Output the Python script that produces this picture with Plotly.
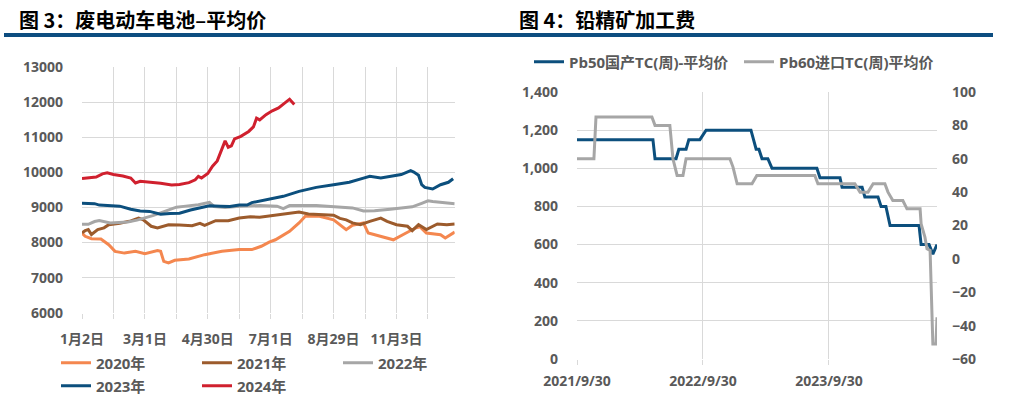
import plotly.graph_objects as go

# ---------------- Left chart: 废电动车电池–平均价 (trading-day index within year) ----------------
x_tick_idx = [0, 20, 40, 60, 80, 100, 120, 140, 160, 180, 200, 220]
x_tick_txt = ["1月2日", "", "3月1日", "", "4月30日", "", "7月1日", "", "8月29日", "", "11月3日", ""]

idx_2020 = [0, 2, 6, 12, 17, 21, 27, 34, 40, 48, 50, 52, 55, 59, 68, 78, 89, 100, 108, 114,
            119, 123, 132, 138, 142, 151, 160, 165, 168, 172, 179, 182, 190, 198, 204, 212, 215,
            219, 228, 231, 237]
val_2020 = [8270, 8180, 8110, 8100, 7940, 7750, 7700, 7750, 7685, 7770, 7750, 7465, 7420, 7495,
            7530, 7655, 7750, 7800, 7800, 7895, 8015, 8080, 8320, 8560, 8750, 8750, 8650, 8465,
            8370, 8495, 8560, 8273, 8180, 8080, 8225, 8415, 8450, 8273, 8225, 8130, 8300]

idx_2021 = [0, 2, 4, 6, 10, 14, 17, 24, 31, 36, 39, 44, 48, 55, 62, 70, 75, 78, 85, 93, 100,
            107, 113, 120, 128, 134, 138, 144, 151, 160, 164, 168, 172, 177, 183, 190, 194, 200,
            207, 210, 214, 219, 226, 232, 237]
val_2021 = [8280, 8340, 8370, 8230, 8370, 8420, 8510, 8550, 8620, 8700, 8650, 8465, 8415, 8510,
            8500, 8480, 8550, 8490, 8625, 8625, 8700, 8740, 8720, 8760, 8815, 8850, 8870, 8815,
            8800, 8780, 8690, 8650, 8560, 8510, 8605, 8700, 8605, 8510, 8465, 8340, 8510, 8370,
            8530, 8510, 8530]

idx_2022 = [0, 4, 8, 11, 18, 24, 29, 35, 40, 45, 50, 56, 60, 66, 74, 81, 84, 91, 100, 113, 124,
            128, 132, 149, 160, 172, 179, 186, 196, 204, 210, 216, 220, 223, 230, 237]
val_2022 = [8520, 8520, 8600, 8630, 8560, 8570, 8590, 8640, 8700, 8770, 8850, 8950, 9010, 9040,
            9080, 9150, 9030, 9000, 9035, 9060, 9040, 8970, 9055, 9060, 9035, 8990, 8900, 8910,
            8950, 8990, 9020, 9120, 9190, 9170, 9130, 9110]

idx_2023 = [0, 8, 11, 20, 24, 31, 37, 43, 50, 56, 62, 69, 75, 81, 88, 94, 100, 105, 108, 117,
            128, 138, 149, 160, 170, 179, 183, 190, 198, 203, 209, 211, 214, 216, 218, 223, 228,
            233, 236]
val_2023 = [9120, 9110, 9070, 9050, 9040, 8950, 8900, 8890, 8810, 8830, 8840, 8930, 8980, 9050,
            9040, 9030, 9070, 9070, 9140, 9225, 9320, 9460, 9575, 9650, 9720, 9840, 9890, 9840,
            9890, 9940, 10050, 10010, 9920, 9650, 9575, 9530, 9650, 9720, 9820]

idx_2024 = [0, 5, 9, 13, 16, 20, 26, 31, 34, 37, 43, 50, 57, 62, 68, 72, 74, 76, 80, 83, 86, 89,
            91, 93, 95, 97, 101, 106, 109, 111, 113, 117, 121, 125, 129, 132, 135]
val_2024 = [9830, 9850, 9870, 9960, 9990, 9940, 9900, 9840, 9700, 9750, 9730, 9690, 9640, 9660,
            9710, 9790, 9890, 9840, 9970, 10180, 10330, 10700, 10900, 10720, 10760, 10960, 11030,
            11170, 11300, 11550, 11500, 11650, 11760, 11840, 11970, 12090, 11940]

# ---------------- Right chart: 铅精矿加工费 ----------------
pb50_dates = ["2021-09-30", "2022-05-08", "2022-05-14", "2022-07-14", "2022-07-22", "2022-08-12",
              "2022-08-20", "2022-09-21", "2022-10-09", "2023-02-16", "2023-03-03", "2023-03-11",
              "2023-03-20", "2023-04-06", "2023-04-18", "2023-08-26", "2023-09-04", "2023-11-01",
              "2023-11-07", "2024-01-04", "2024-01-12", "2024-02-19", "2024-02-28", "2024-03-13",
              "2024-03-25", "2024-06-17", "2024-06-23", "2024-07-16", "2024-07-27", "2024-08-08"]
pb50_vals = [1150, 1150, 1050, 1050, 1100, 1100, 1150, 1150, 1200, 1200, 1100, 1100, 1050, 1050,
             1000, 1000, 950, 950, 900, 900, 850, 850, 800, 800, 700, 700, 600, 600, 550, 600]

pb60_dates = ["2021-09-30", "2021-11-18", "2021-11-24", "2022-05-05", "2022-05-14", "2022-06-26",
              "2022-07-05", "2022-07-17", "2022-08-03", "2022-08-12", "2022-12-17", "2022-12-26",
              "2023-01-07", "2023-02-19", "2023-03-05", "2023-08-20", "2023-08-29", "2023-12-14",
              "2023-12-29", "2024-01-21", "2024-02-05", "2024-03-10", "2024-03-19", "2024-04-02",
              "2024-05-01", "2024-05-13", "2024-06-20", "2024-06-23", "2024-07-04", "2024-07-10",
              "2024-07-19", "2024-07-24", "2024-07-27", "2024-08-05", "2024-08-08"]
pb60_vals = [60, 60, 85, 85, 80, 80, 60, 50, 50, 60, 60, 55, 45, 45, 50, 50, 45, 45, 40, 40, 45,
             45, 40, 35, 35, 30, 30, 21, 13, 6, 5, -37, -51, -51, -35]

r_tick_dates = ["2021-09-30", "2022-09-30", "2023-09-30"]
r_tick_txt = ["2021/9/30", "2022/9/30", "2023/9/30"]

# ---------------- Styling ----------------
W, H = 1013, 401
FONT = '"Open Sans", "Noto Sans CJK SC", sans-serif'
GRID = "#D9D9D9"
TXT = "#595959"
C2020, C2021, C2022, C2023, C2024 = "#F4874F", "#9C5B2C", "#A6A6A6", "#0C4F7D", "#D0202E"
BAR = "#0D4D80"

def px_x(p):
    return p / W

def px_y(p):
    return 1 - p / H

tickfont = dict(family=FONT, size=14, color=TXT, weight="bold")
legfont = dict(family=FONT, size=15, color=TXT, weight="bold")

fig = go.Figure()
left = [("2020年", idx_2020, val_2020, C2020, "legend"),
        ("2021年", idx_2021, val_2021, C2021, "legend"),
        ("2022年", idx_2022, val_2022, C2022, "legend"),
        ("2023年", idx_2023, val_2023, C2023, "legend2"),
        ("2024年", idx_2024, val_2024, C2024, "legend2")]
for name, xs, ys, c, lg in left:
    fig.add_trace(go.Scatter(x=xs, y=ys, name=name, mode="lines",
                             line=dict(color=c, width=3), xaxis="x", yaxis="y", legend=lg))

fig.add_trace(go.Scatter(x=pb50_dates, y=pb50_vals, name="Pb50国产TC(周)-平均价", mode="lines",
                         line=dict(color=C2023, width=3), xaxis="x2", yaxis="y2", legend="legend3"))
fig.add_trace(go.Scatter(x=pb60_dates, y=pb60_vals, name="Pb60进口TC(周)平均价", mode="lines",
                         line=dict(color="#A6A6A6", width=3), xaxis="x2", yaxis="y3", legend="legend3"))

axis_common = dict(showgrid=True, gridcolor=GRID, gridwidth=1.3, zeroline=False,
                   showline=False, tickfont=tickfont, fixedrange=True, automargin=False)

fig.update_layout(
    template="none",
    width=W, height=H, margin=dict(l=0, r=0, t=0, b=0, pad=0, autoexpand=False),
    paper_bgcolor="white", plot_bgcolor="white",
    xaxis=dict(domain=[px_x(82), px_x(454.7)], range=[0, 237], tickmode="array",
               tickvals=x_tick_idx, ticktext=x_tick_txt, ticks="outside", ticklen=5,
               tickcolor=GRID, tickwidth=1.3, ticklabelstandoff=8, anchor="y", **axis_common),
    yaxis=dict(domain=[px_y(312.7), px_y(67.3)], range=[6000, 13000], dtick=1000,
               tickformat="d", ticks="", ticklabelstandoff=18, anchor="x", **axis_common),
    xaxis2=dict(domain=[px_x(577), px_x(937)], type="date",
                range=["2021-09-30", "2024-08-08"], tickmode="array",
                tickvals=r_tick_dates, ticktext=r_tick_txt, ticks="outside", ticklen=5,
                tickcolor=GRID, tickwidth=1.3, ticklabelstandoff=4, anchor="y2", **axis_common),
    yaxis2=dict(domain=[px_y(359), px_y(92)], range=[0, 1400], dtick=200, tickformat=",d",
                ticks="", ticklabelstandoff=18, anchor="x2", **axis_common),
    yaxis3=dict(overlaying="y2", side="right", range=[-60, 100], dtick=20, showgrid=False,
                zeroline=False, showline=False, ticks="", ticklabelstandoff=14,
                tickfont=tickfont, anchor="x2", fixedrange=True, automargin=False),
    legend=dict(orientation="h", x=px_x(56), y=px_y(363), xanchor="left", yanchor="middle",
                entrywidth=96, entrywidthmode="pixels", font=legfont, bgcolor="rgba(0,0,0,0)",
                itemclick=False, itemdoubleclick=False),
    legend2=dict(orientation="h", x=px_x(56), y=px_y(386), xanchor="left", yanchor="middle",
                 entrywidth=96, entrywidthmode="pixels", font=legfont, bgcolor="rgba(0,0,0,0)",
                 itemclick=False, itemdoubleclick=False),
    legend3=dict(orientation="h", x=px_x(529), y=px_y(62), xanchor="left", yanchor="middle",
                 entrywidth=165, entrywidthmode="pixels", font=legfont, bgcolor="rgba(0,0,0,0)",
                 itemclick=False, itemdoubleclick=False),
    showlegend=True,
)

fig.add_shape(type="rect", xref="paper", yref="paper", x0=px_x(4), x1=px_x(993),
              y0=px_y(37), y1=px_y(33), fillcolor=BAR, line=dict(width=0), layer="above")

title_font = dict(family='"Noto Sans CJK SC", sans-serif', size=20, color="#000000", weight="bold")
fig.add_annotation(text="图 3：废电动车电池–平均价", xref="paper", yref="paper",
                   x=px_x(17), y=px_y(19), xanchor="left", yanchor="middle", align="left",
                   showarrow=False, font=title_font)
fig.add_annotation(text="图 4：铅精矿加工费", xref="paper", yref="paper",
                   x=px_x(517), y=px_y(19), xanchor="left", yanchor="middle", align="left",
                   showarrow=False, font=title_font)

fig.write_html("out.html", config={"displayModeBar": False})
